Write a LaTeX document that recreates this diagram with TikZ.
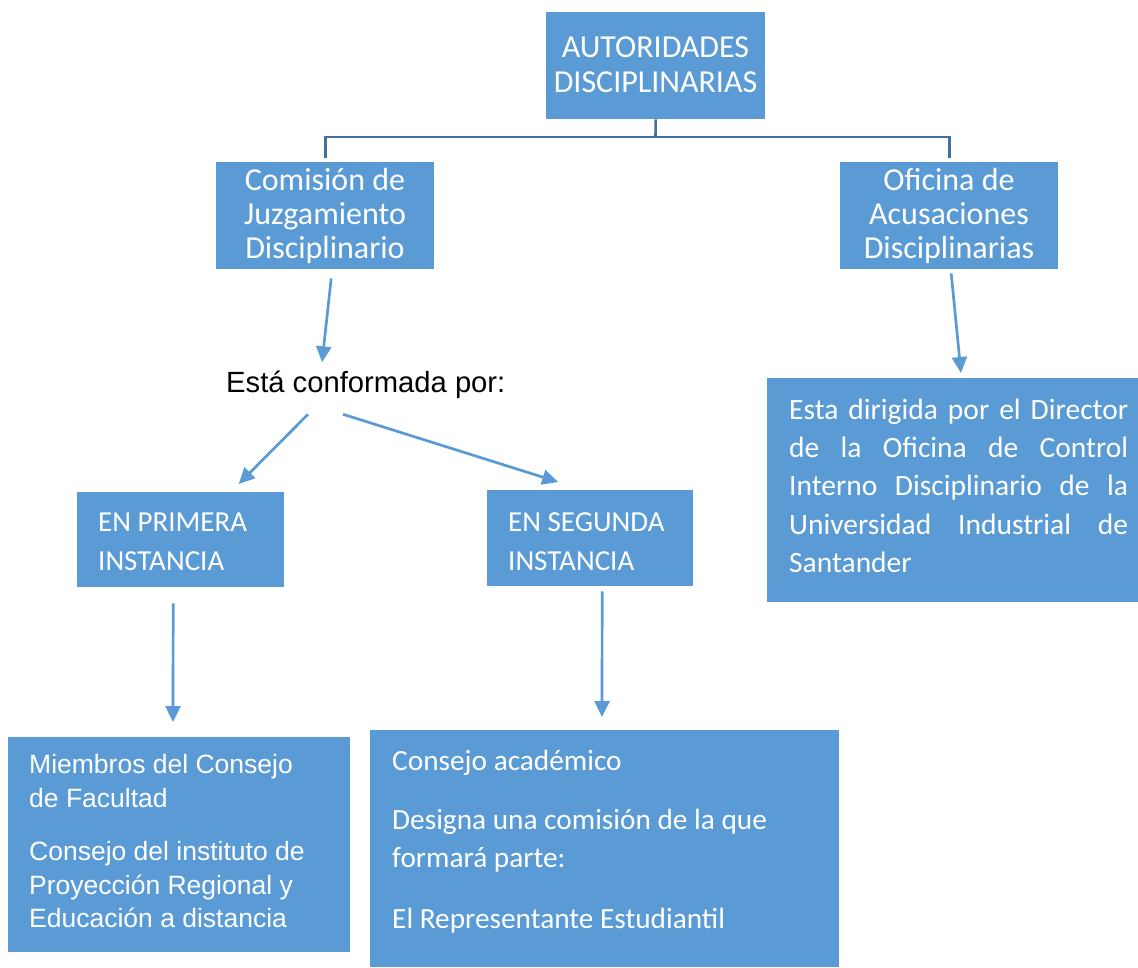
\documentclass[tikz,border=0pt]{standalone}
\usepackage{fontspec}
\setmainfont{Carlito}
\newfontfamily\arialf{Liberation Sans}
\usetikzlibrary{arrows.meta,calc}
\definecolor{boxblue}{HTML}{5B9BD5}
\definecolor{linkblue}{HTML}{41719C}
\tikzset{
  box/.style={fill=boxblue, draw=none, inner sep=0pt, anchor=north west},
  wtxt/.style={text=white, inner sep=0pt},
  bigtxt/.style={wtxt, anchor=base, font=\fontsize{32}{34}\selectfont},
  lefttxt/.style={wtxt, anchor=base west, font=\fontsize{29.3}{34}\selectfont},
  insttxt/.style={wtxt, anchor=base west, font=\fontsize{29}{34}\selectfont},
  dirtxt/.style={wtxt, anchor=base west, font=\fontsize{29.5}{34}\selectfont},
  ariatxt/.style={wtxt, anchor=base west, font=\arialf\fontsize{26.5}{32}\selectfont},
  arr/.style={draw=boxblue, line width=2.7pt, -{Triangle[width=15pt,length=16pt]}},
  link/.style={draw=linkblue, line width=2.6pt}
}
\begin{document}
\begin{tikzpicture}[x=1pt,y=-1pt]
\useasboundingbox (0,0) rectangle (1138,967);
% boxes
\node[box, minimum width=219, minimum height=107] (top) at (546,12) {};
\node[box, minimum width=218, minimum height=107] (com) at (216,162) {};
\node[box, minimum width=218, minimum height=107] (ofi) at (840,162) {};
\node[box, minimum width=207, minimum height=95] (pri) at (77,492) {};
\node[box, minimum width=206, minimum height=96] (seg) at (487,490) {};
\node[box, minimum width=371, minimum height=224] (dir) at (767,378) {};
\node[box, minimum width=342, minimum height=215] (fac) at (8,737) {};
\node[box, minimum width=469, minimum height=237] (aca) at (370,730) {};
% texts
\node[bigtxt] (t1) at (655.5,57) {AUTORIDADES};
\node[bigtxt] (t2) at (655.5,92) {DISCIPLINARIAS};
\node[bigtxt] (c1) at (325,190) {Comisión de};
\node[bigtxt] (c2) at (325,224) {Juzgamiento};
\node[bigtxt] (c3) at (325,258) {Disciplinario};
\node[bigtxt] (o1) at (949,190) {Oficina de};
\node[bigtxt] (o2) at (949,224) {Acusaciones};
\node[bigtxt] (o3) at (949,258) {Disciplinarias};
\node[inner sep=0pt, anchor=base west, font=\arialf\fontsize{29.2}{34}\selectfont] (esta) at (226,392) {Está conformada por:};
\node[insttxt] (p1) at (98,531) {EN PRIMERA};
\node[insttxt] (p2) at (98,570) {INSTANCIA};
\node[insttxt] (s1) at (508,531) {EN SEGUNDA};
\node[insttxt] (s2) at (508,570) {INSTANCIA};
\node[dirtxt] (d1) at (789,419) {\makebox[339pt][s]{Esta dirigida por el Director}};
\node[dirtxt] (d2) at (789,457) {\makebox[339pt][s]{de la Oficina de Control}};
\node[dirtxt] (d3) at (789,495) {\makebox[339pt][s]{Interno Disciplinario de la}};
\node[dirtxt] (d4) at (789,534) {\makebox[339pt][s]{Universidad Industrial de}};
\node[dirtxt] (d5) at (789,572) {Santander};
\node[ariatxt] (f1) at (29,773) {Miembros del Consejo};
\node[ariatxt] (f2) at (29,807) {de Facultad};
\node[ariatxt] (f3) at (29,860) {Consejo del instituto de};
\node[ariatxt] (f4) at (29,894) {Proyección Regional y};
\node[ariatxt] (f5) at (29,927) {Educación a distancia};
\node[lefttxt] (a1) at (392,770) {Consejo académico};
\node[lefttxt] (a2) at (392,829) {Designa una comisión de la que};
\node[lefttxt] (a3) at (392,867) {formará parte:};
\node[lefttxt] (a4) at (392,928) {El Representante Estudiantil};
% connectors
\coordinate (hub) at (655.5,137);
\draw[link] (top.south) -- (hub);
\draw[link] ($(com.north)+(0,-4)$) |- (hub) -| ($(ofi.north)+(0,-4)$);
\draw[arr] ($(com.south)+(6,9)$) -- ($(esta.north west)+(96,-8)$);
\draw[arr] ($(esta.south west)+(82,16)$) -- ($(pri.north)+(58,-8)$);
\draw[arr] ($(esta.south west)+(117,16)$) -- ($(seg.north)+(-32,-8)$);
\draw[arr] ($(ofi.south)+(2,4)$) -- ($(dir.north west)+(194,-5)$);
\draw[arr] ($(pri.south)+(-7.5,16)$) -- ($(fac.north west)+(165,-15)$);
\draw[arr] ($(seg.south)+(12,5)$) -- ($(aca.north west)+(232,-13)$);
\end{tikzpicture}
\end{document}
